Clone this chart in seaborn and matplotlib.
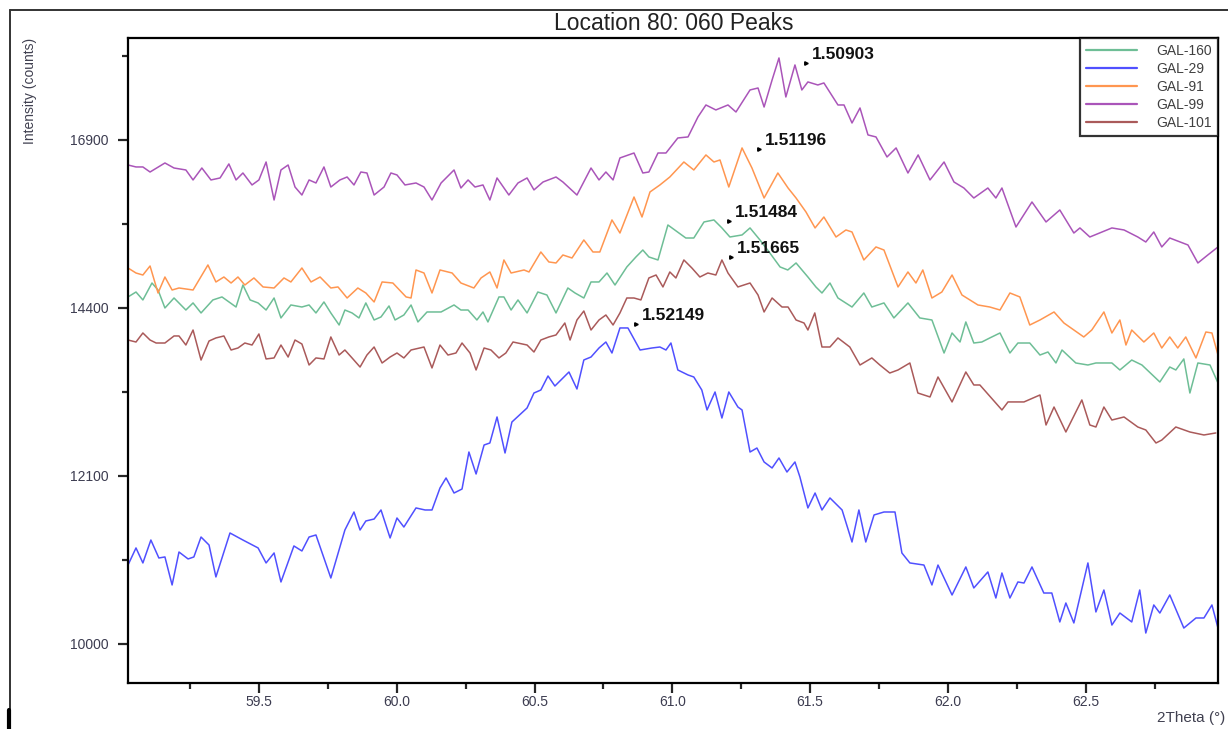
import numpy as np
import pandas as pd
import matplotlib
matplotlib.use("Agg")
import matplotlib.pyplot as plt
from matplotlib.lines import Line2D
import seaborn as sns

# ------------------------------ data (2theta, counts) ------------------------------
gal_160 = [(59.025,14558),(59.054,14629),(59.079,14515),(59.112,14759),(59.134,14658),(59.159,14400),(59.192,14543),
           (59.235,14371),(59.261,14472),(59.290,14329),(59.333,14515),(59.366,14558),(59.417,14414),(59.442,14730),
           (59.468,14515),(59.497,14472),(59.526,14371),(59.555,14543),(59.580,14258),(59.616,14443),(59.656,14414),
           (59.682,14443),(59.707,14329),(59.736,14486),(59.761,14329),(59.791,14158),(59.812,14371),(59.838,14329),
           (59.863,14258),(59.888,14472),(59.918,14229),(59.943,14272),(59.972,14429),(59.994,14229),(60.026,14300),
           (60.052,14443),(60.077,14201),(60.110,14343),(60.161,14343),(60.208,14443),(60.233,14371),(60.259,14371),
           (60.291,14229),(60.313,14343),(60.331,14201),(60.371,14558),(60.389,14558),(60.415,14371),(60.440,14515),
           (60.473,14329),(60.512,14629),(60.545,14586),(60.578,14329),(60.621,14687),(60.647,14615),(60.679,14543),
           (60.705,14774),(60.734,14774),(60.763,14904),(60.792,14730),(60.835,14992),(60.868,15138),(60.893,15240),
           (60.915,15138),(60.948,15094),(60.984,15610),(61.024,15491),(61.049,15417),(61.078,15417),(61.115,15655),
           (61.151,15685),(61.180,15566),(61.209,15432),(61.253,15462),(61.282,15566),(61.318,15388),(61.354,15196),
           (61.391,14992),(61.419,14948),(61.449,15050),(61.492,14846),(61.521,14702),(61.543,14615),(61.572,14759),
           (61.601,14543),(61.652,14414),(61.695,14615),(61.724,14414),(61.768,14472),(61.804,14258),(61.855,14472),
           (61.898,14258),(61.942,14229),(61.986,13764),(62.015,14045),(62.044,13918),(62.065,14201),(62.094,13904),
           (62.123,13918),(62.152,13975),(62.189,14045),(62.225,13764),(62.254,13904),(62.297,13904),(62.334,13736),
           (62.363,13778),(62.392,13625),(62.414,13806),(62.464,13625),(62.508,13597),(62.537,13625),(62.595,13625),
           (62.624,13528),(62.667,13666),(62.704,13597),(62.769,13362),(62.805,13569),(62.827,13528),(62.856,13681),
           (62.878,13211),(62.907,13625),(62.951,13597),(62.980,13349)]

gal_29 = [(59.025,10962),(59.054,11176),(59.079,10988),(59.108,11276),(59.137,11050),(59.159,11063),(59.185,10715),
          (59.210,11125),(59.243,11038),(59.264,11063),(59.290,11314),(59.319,11213),(59.344,10814),(59.395,11365),
          (59.442,11276),(59.497,11176),(59.526,10988),(59.555,11113),(59.580,10752),(59.627,11201),(59.656,11138),
          (59.682,11314),(59.707,11340),(59.761,10801),(59.812,11403),(59.845,11633),(59.867,11403),(59.888,11518),
          (59.918,11543),(59.943,11659),(59.976,11302),(60.001,11556),(60.026,11441),(60.070,11685),(60.103,11659),
          (60.128,11659),(60.157,11943),(60.179,12074),(60.208,11878),(60.237,11930),(60.262,12416),(60.288,12126),
          (60.317,12509),(60.338,12536),(60.364,12885),(60.393,12403),(60.418,12817),(60.473,13007),(60.498,13211),
          (60.523,13252),(60.549,13445),(60.574,13307),(60.625,13500),(60.654,13266),(60.679,13667),(60.705,13708),
          (60.734,13834),(60.759,13918),(60.781,13764),(60.810,14116),(60.839,14116),(60.883,13806),(60.926,13834),
          (60.955,13848),(60.977,13806),(60.995,13904),(61.020,13528),(61.057,13459),(61.078,13431),(61.107,13252),
          (61.126,12980),(61.155,13225),(61.180,12871),(61.205,13225),(61.238,13020),(61.253,12980),(61.282,12416),
          (61.307,12469),(61.333,12284),(61.362,12205),(61.387,12337),(61.416,12152),(61.445,12284),(61.463,12087),
          (61.492,11685),(61.518,11878),(61.543,11659),(61.572,11814),(61.616,11659),(61.652,11251),(61.677,11659),
          (61.702,11251),(61.732,11595),(61.768,11633),(61.808,11633),(61.833,11113),(61.862,10988),(61.913,10962),
          (61.942,10715),(61.964,10962),(62.015,10592),(62.065,10938),(62.094,10678),(62.145,10876),(62.174,10555),
          (62.196,10863),(62.225,10555),(62.254,10752),(62.276,10739),(62.305,10938),(62.348,10616),(62.377,10616),
          (62.406,10264),(62.428,10494),(62.457,10252),(62.508,10988),(62.537,10385),(62.566,10653),(62.595,10227),
          (62.624,10372),(62.667,10264),(62.696,10653),(62.718,10131),(62.747,10470),(62.769,10372),(62.805,10592),
          (62.856,10191),(62.900,10312),(62.929,10312),(62.958,10470),(62.980,10191)]

gal_91 = [(59.025,14977),(59.054,14904),(59.079,14875),(59.105,15006),(59.134,14615),(59.159,14846),(59.185,14658),
          (59.210,14687),(59.261,14658),(59.315,15021),(59.344,14774),(59.373,14846),(59.399,14759),(59.424,14846),
          (59.449,14730),(59.482,14832),(59.515,14702),(59.555,14687),(59.591,14832),(59.616,14774),(59.656,14977),
          (59.689,14774),(59.722,14846),(59.761,14687),(59.787,14702),(59.820,14543),(59.859,14687),(59.888,14615),
          (59.918,14486),(59.947,14774),(59.986,14759),(60.034,14558),(60.052,14543),(60.070,14948),(60.099,14904),
          (60.128,14615),(60.157,14948),(60.201,14904),(60.233,14759),(60.280,14687),(60.306,14832),(60.338,14919),
          (60.364,14687),(60.389,15094),(60.415,14904),(60.462,14948),(60.480,14919),(60.523,15211),(60.552,15065),
          (60.578,15050),(60.603,15167),(60.636,15123),(60.679,15388),(60.712,15211),(60.737,15211),(60.781,15685),
          (60.810,15491),(60.861,16029),(60.890,15729),(60.919,16105),(60.955,16211),(60.991,16332),(61.042,16561),
          (61.078,16439),(61.122,16669),(61.151,16561),(61.173,16592),(61.205,16180),(61.253,16777),(61.289,16469),
          (61.333,16014),(61.383,16393),(61.420,16165),(61.449,16014),(61.485,15804),(61.518,15566),(61.550,15729),
          (61.594,15432),(61.630,15536),(61.652,15506),(61.695,15094),(61.739,15285),(61.768,15240),(61.819,14702),
          (61.855,14919),(61.884,14759),(61.909,14948),(61.942,14543),(61.978,14629),(62.015,14875),(62.051,14586),
          (62.109,14443),(62.152,14414),(62.189,14371),(62.225,14615),(62.261,14558),(62.297,14158),(62.334,14229),
          (62.385,14343),(62.421,14186),(62.493,13989),(62.522,14087),(62.566,14343),(62.595,14045),(62.624,14229),
          (62.646,13876),(62.667,14087),(62.711,13918),(62.747,14045),(62.776,13834),(62.805,13989),(62.834,13834),
          (62.863,13989),(62.900,13695),(62.936,14059),(62.958,14045),(62.980,13736)]

gal_99 = [(59.025,16515),(59.054,16485),(59.079,16485),(59.105,16408),(59.159,16546),(59.192,16469),(59.235,16439),
          (59.261,16287),(59.293,16469),(59.326,16287),(59.359,16317),(59.391,16531),(59.417,16287),(59.442,16393),
          (59.475,16211),(59.500,16287),(59.526,16561),(59.555,15984),(59.580,16439),(59.606,16515),(59.631,16180),
          (59.656,16059),(59.682,16287),(59.707,16241),(59.736,16485),(59.761,16180),(59.794,16287),(59.820,16332),
          (59.845,16211),(59.870,16408),(59.892,16393),(59.918,16059),(59.954,16180),(59.979,16393),(60.001,16363),
          (60.030,16211),(60.070,16241),(60.099,16180),(60.128,15984),(60.161,16241),(60.208,16439),(60.233,16165),
          (60.259,16287),(60.284,16180),(60.313,16211),(60.338,15984),(60.364,16317),(60.407,16059),(60.440,16241),
          (60.473,16317),(60.498,16136),(60.531,16256),(60.578,16332),(60.603,16256),(60.654,16059),(60.705,16469),
          (60.734,16287),(60.759,16408),(60.785,16287),(60.810,16623),(60.861,16699),(60.893,16393),(60.915,16408),
          (60.948,16699),(60.977,16699),(61.020,16931),(61.057,16947),(61.093,17258),(61.122,17446),(61.158,17368),
          (61.202,17446),(61.231,17336),(61.282,17683),(61.311,17714),(61.333,17414),(61.362,17841),(61.387,18193),
          (61.412,17572),(61.445,18081),(61.470,17683),(61.492,17810),(61.528,17762),(61.550,17794),(61.601,17446),
          (61.623,17446),(61.652,17164),(61.681,17399),(61.710,16978),(61.739,16947),(61.779,16638),(61.812,16777),
          (61.855,16393),(61.892,16669),(61.935,16287),(61.986,16561),(62.022,16256),(62.058,16165),(62.094,16014),
          (62.145,16165),(62.174,16014),(62.196,16165),(62.247,15580),(62.305,15954),(62.356,15655),(62.406,15834),
          (62.457,15491),(62.479,15566),(62.515,15432),(62.595,15566),(62.639,15536),(62.689,15432),(62.718,15358),
          (62.747,15506),(62.776,15285),(62.805,15417),(62.871,15314),(62.907,15050),(62.943,15167),(62.980,15285)]

gal_101 = [(59.025,13946),(59.054,13918),(59.079,14045),(59.105,13946),(59.127,13904),(59.159,13904),(59.192,14003),
           (59.210,14003),(59.235,13876),(59.261,14087),(59.290,13666),(59.319,13932),(59.344,13975),(59.373,14003),
           (59.399,13806),(59.424,13834),(59.449,13904),(59.475,13876),(59.500,14031),(59.526,13681),(59.555,13695),
           (59.580,13876),(59.606,13708),(59.631,13946),(59.656,13890),(59.682,13597),(59.707,13695),(59.736,13681),
           (59.761,13989),(59.791,13736),(59.812,13806),(59.838,13695),(59.867,13569),(59.892,13736),(59.918,13848),
           (59.947,13625),(59.976,13708),(60.001,13764),(60.026,13695),(60.052,13806),(60.099,13848),(60.128,13556),
           (60.157,13876),(60.186,13736),(60.215,13764),(60.237,13904),(60.266,13764),(60.288,13528),(60.317,13834),
           (60.342,13806),(60.371,13695),(60.396,13764),(60.422,13918),(60.473,13876),(60.498,13778),(60.523,13946),
           (60.552,13989),(60.578,14017),(60.610,14186),(60.629,13946),(60.654,14229),(60.679,14357),(60.705,14087),
           (60.734,14229),(60.759,14300),(60.785,14158),(60.810,14329),(60.835,14543),(60.861,14543),(60.886,14515),
           (60.915,14832),(60.941,14875),(60.966,14702),(60.991,14919),(61.013,14832),(61.042,15094),(61.071,14977),
           (61.100,14846),(61.129,14904),(61.158,14875),(61.180,15094),(61.202,14904),(61.238,14702),(61.282,14759),
           (61.311,14586),(61.333,14343),(61.362,14543),(61.398,14414),(61.420,14414),(61.449,14229),(61.478,14186),
           (61.492,14087),(61.517,14329),(61.543,13848),(61.572,13848),(61.601,13975),(61.644,13848),(61.681,13597),
           (61.724,13695),(61.753,13597),(61.789,13486),(61.819,13528),(61.862,13625),(61.891,13211),(61.935,13157),
           (61.964,13431),(62.015,13089),(62.065,13500),(62.094,13321),(62.116,13321),(62.196,12980),(62.218,13089),
           (62.276,13089),(62.334,13184),(62.356,12777),(62.385,13020),(62.428,12683),(62.486,13116),(62.515,12777),
           (62.537,12750),(62.566,13020),(62.595,12844),(62.639,12885),(62.689,12750),(62.718,12710),(62.755,12536),
           (62.776,12575),(62.827,12750),(62.878,12683),(62.929,12643),(62.972,12670)]

samples = ["GAL-160", "GAL-29", "GAL-91", "GAL-99", "GAL-101"]
colors = ["#6ebe96", "#5050ff", "#ff9650", "#aa55b9", "#aa5a5a"]

# d-spacing labels at the peak tops
peak_x = [61.485, 61.314, 61.205, 61.213, 60.868]
peak_y = [18113, 16761, 15670, 15138, 14172]
peak_labels = ["1.50903", "1.51196", "1.51484", "1.51665", "1.52149"]

y_major = [10000, 12100, 14400, 16900]
y_minor = [11025, 13225, 15625, 18225]
x_major = [59.5, 60.0, 60.5, 61.0, 61.5, 62.0, 62.5]
x_minor = [59.25, 59.75, 60.25, 60.75, 61.25, 61.75, 62.25, 62.75]

# ------------------------------ long-form table ------------------------------
frames = []
for name, pts in zip(samples, [gal_160, gal_29, gal_91, gal_99, gal_101]):
    d = pd.DataFrame(pts, columns=["2theta", "counts"])
    d["sample"] = name
    frames.append(d)
df = pd.concat(frames, ignore_index=True)

# ------------------------------ plot ------------------------------
sns.set_style("ticks")
plt.rcParams["font.family"] = ["Liberation Sans", "DejaVu Sans"]

fig = plt.figure(figsize=(12.28, 7.29), dpi=100)
ax = fig.add_axes([128 / 1228, 1 - 683 / 729, 1090 / 1228, 645 / 729])

sns.lineplot(data=df, x="2theta", y="counts", hue="sample", hue_order=samples,
             palette=colors, estimator=None, sort=False, linewidth=1.1, ax=ax)

# intensity axis is on a square-root scale
ax.set_yscale("function", functions=(lambda v: np.sqrt(np.clip(v, 0, None)), np.square))
ax.set_xlim(59.025, 62.98)
ax.set_ylim(9541, 18515)
ax.set_yticks(y_major)
ax.set_yticks(y_minor, minor=True)
ax.set_yticklabels([str(v) for v in y_major])
ax.set_xticks(x_major)
ax.set_xticks(x_minor, minor=True)
ax.set_xticklabels([f"{v:.1f}" for v in x_major])
ax.tick_params(which="major", length=7, width=1.6, labelsize=10, labelcolor="#3c3c50")
ax.tick_params(axis="y", which="major", pad=7)
ax.tick_params(axis="x", which="major", pad=2)
ax.tick_params(which="minor", length=4, width=1.6)
ax.set_xlabel("")
ax.set_ylabel("")
for sp in ax.spines.values():
    sp.set_linewidth(1.6)
    sp.set_color("black")

for px, py, lab in zip(peak_x, peak_y, peak_labels):
    ax.plot(px, py, marker=">", markersize=2.5, color="black")
    ax.annotate(lab, xy=(px, py), xytext=(4.3, 5.8), textcoords="offset points",
                ha="left", va="center", fontsize=12.5, fontweight="bold", color="#111111")

leg = ax.legend(loc="upper right", borderaxespad=0, fontsize=10, frameon=True, fancybox=False,
                handlelength=3.7, handletextpad=1.35, labelspacing=0.28, borderpad=0.45)
leg.get_frame().set_edgecolor("black")
leg.get_frame().set_linewidth(1.6)
for t in leg.get_texts():
    t.set_color("#404040")
for h in leg.get_lines():
    h.set_linewidth(1.6)

fig.text(674 / 1228, 1 - 23 / 729, "Location 80: 060 Peaks", ha="center", va="center",
         fontsize=16.5, color="#222222")
fig.text(30 / 1228, 1 - 38 / 729, "Intensity (counts)", rotation=90, ha="center", va="top",
         fontsize=10, color="#404050")
fig.text(1225 / 1228, 1 - 718 / 729, "2Theta (°)", ha="right", va="center",
         fontsize=11, color="#404050")

# outer report frame
fig.add_artist(Line2D([10 / 1228, 1.0], [1 - 10 / 729, 1 - 10 / 729], transform=fig.transFigure,
                      color="#333333", linewidth=1.4))
fig.add_artist(Line2D([10 / 1228, 10 / 1228], [0, 1 - 10 / 729], transform=fig.transFigure,
                      color="#333333", linewidth=1.4))
fig.add_artist(Line2D([9 / 1228, 9 / 1228], [0, 19 / 729], transform=fig.transFigure,
                      color="black", linewidth=3))

fig.savefig("out.png", dpi=100)
